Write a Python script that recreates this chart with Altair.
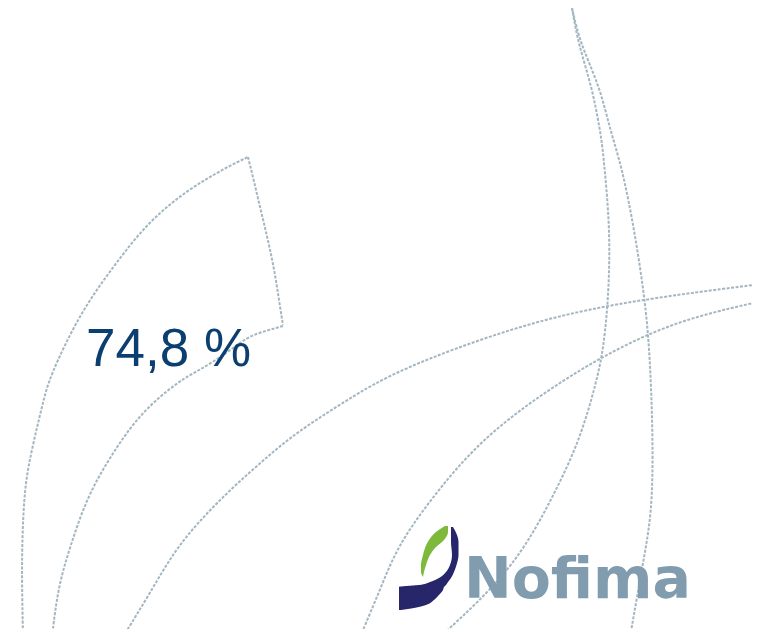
import altair as alt
import pandas as pd

W, H = 744, 621
OX, OY = 8, 8

# ---- decorative dashed arcs (page pixel coords) ----
outer_x = [23, 22, 22, 24, 28, 37, 43, 49, 80, 113, 147, 187, 227, 248]
outer_y = [637, 587, 547, 497, 467, 427, 403, 378, 313, 267, 223, 190, 167, 157]

radial_x = [248, 252, 260, 268, 275, 280, 283]
radial_y = [157, 173, 207, 240, 273, 307, 325]

inner_x = [283, 265, 247, 227, 200, 180, 140, 110, 87, 70, 58, 52]
inner_y = [326, 331, 337, 353, 370, 380, 413, 457, 497, 547, 587, 637]

c_x = [123, 150, 173, 200, 233, 267, 297, 347, 397, 513, 613, 753, 762]
c_y = [637, 593, 553, 520, 487, 457, 432, 400, 370, 327, 303, 285, 284]

d_x = [360, 380, 397, 430, 480, 547, 613, 680, 753, 762]
d_y = [637, 590, 547, 500, 440, 390, 350, 320, 303, 301]

e_x = [440, 513, 553, 580, 597, 603, 607, 609, 610, 603, 600, 592, 578, 572]
e_y = [637, 570, 497, 440, 380, 350, 313, 280, 227, 150, 130, 87, 43, 8]

f_x = [630, 643, 652, 653, 651, 647, 635, 622, 610, 600, 580, 572]
f_y = [637, 563, 513, 447, 380, 313, 233, 167, 130, 87, 43, 8]

curves = {
    "outer": (outer_x, outer_y),
    "radial": (radial_x, radial_y),
    "inner": (inner_x, inner_y),
    "c": (c_x, c_y),
    "d": (d_x, d_y),
    "e": (e_x, e_y),
    "f": (f_x, f_y),
}
rows = []
for name, (xs_, ys_) in curves.items():
    for i, (a, b) in enumerate(zip(xs_, ys_)):
        rows.append({"series": name, "i": i, "x": a, "y": b})
lines_df = pd.DataFrame(rows)

# ---- value label ----
label_text = ["74,8 %"]
label_x = [86]
label_y = [366]

# ---- logo shapes (rows: y, left x, right x) ----
green_y = [526, 532, 540, 548, 555, 565, 572, 577]
green_xl = [445, 436, 429, 425, 423, 421, 421, 423]
green_xr = [448, 448, 444, 435, 430, 426, 424, 423]

navy_y = [527, 535, 542, 555, 565, 572, 578, 582, 585, 587, 590, 596, 600, 605, 608, 610]
navy_xl = [451, 451, 451, 452, 450, 446, 439, 430, 419, 399, 399, 399, 399, 399, 399, 399]
navy_xr = [453, 457, 458.5, 458.5, 456.5, 454, 451, 448, 446, 444, 443, 438, 434, 426, 414, 401]

logo_text = ["Nofima"]
logo_x = [464]
logo_y = [598]

xs = alt.Scale(domain=[OX, OX + W], nice=False, zero=False)
ys = alt.Scale(domain=[OY, OY + H], nice=False, zero=False, reverse=True)

lines = alt.Chart(lines_df).mark_line(
    interpolate="basis", strokeDash=[3, 1.5], strokeWidth=2,
    color="#a3b6c2", clip=True
).encode(
    x=alt.X("x:Q", scale=xs, axis=None),
    y=alt.Y("y:Q", scale=ys, axis=None),
    detail="series:N",
    order="i:Q",
)

label = alt.Chart(pd.DataFrame({"t": label_text, "x": label_x, "y": label_y})).mark_text(
    align="left", baseline="alphabetic", font="Liberation Sans", fontSize=53,
    color="#0b3f70"
).encode(x=alt.X("x:Q", scale=xs, axis=None), y=alt.Y("y:Q", scale=ys, axis=None), text="t:N")

green = alt.Chart(pd.DataFrame({"y": green_y, "xl": green_xl, "xr": green_xr})).mark_area(
    orient="horizontal", color="#7dba3c", interpolate="monotone"
).encode(y=alt.Y("y:Q", scale=ys, axis=None), x=alt.X("xl:Q", scale=xs, axis=None), x2="xr:Q")

navy = alt.Chart(pd.DataFrame({"y": navy_y, "xl": navy_xl, "xr": navy_xr})).mark_area(
    orient="horizontal", color="#27266b", interpolate="monotone"
).encode(y=alt.Y("y:Q", scale=ys, axis=None), x=alt.X("xl:Q", scale=xs, axis=None), x2="xr:Q")

logo = alt.Chart(pd.DataFrame({"t": logo_text, "x": logo_x, "y": logo_y})).mark_text(
    align="left", baseline="alphabetic", font="DejaVu Sans", fontWeight="bold",
    fontSize=57, color="#809cae"
).encode(x=alt.X("x:Q", scale=xs, axis=None), y=alt.Y("y:Q", scale=ys, axis=None), text="t:N")

chart = alt.layer(lines, label, green, navy, logo).properties(
    width=W, height=H, padding=0, autosize=alt.AutoSizeParams(type="none"),
    background="white"
).configure_view(stroke=None)

chart.save("out.html", embed_options={"renderer": "svg", "actions": False})
